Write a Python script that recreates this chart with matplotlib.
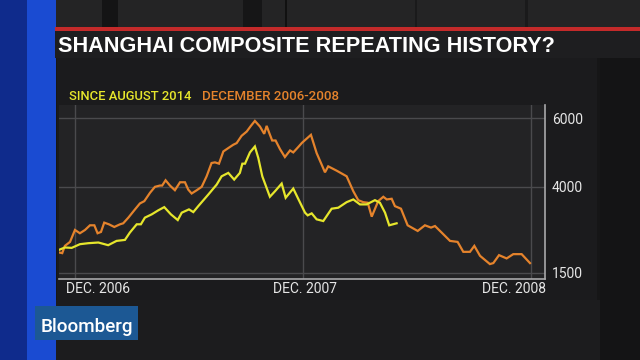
import matplotlib
matplotlib.use("Agg")
import matplotlib.pyplot as plt
from matplotlib.patches import Rectangle
from matplotlib.transforms import ScaledTranslation

# ---- data (x = months relative to Dec. 2006) ----
orange_x = [-0.84, -0.67, -0.53, -0.26, 0.0, 0.26, 0.53, 0.79, 1.02, 1.19, 1.37, 1.54, 1.79,
            2.07, 2.37, 2.54, 2.81, 3.16, 3.42, 3.65, 3.95, 4.21, 4.47, 4.59, 4.77, 5.0,
            5.26, 5.53, 5.79, 5.96, 6.14, 6.41, 6.67, 6.93, 7.19, 7.37, 7.58, 7.81, 8.07,
            8.33, 8.51, 8.77, 9.04, 9.26, 9.47, 9.74, 9.96, 10.09, 10.23, 10.38, 10.56,
            10.79, 11.05, 11.32, 11.49, 11.75, 11.95, 12.42, 12.72, 13.16, 13.33, 13.77,
            14.3, 14.65, 14.91, 15.17, 15.41, 15.62, 15.96, 16.23, 16.41, 16.67, 16.84,
            17.16, 17.51, 18.04, 18.42, 18.74, 18.95, 19.3, 19.74, 20.14, 20.44, 20.79,
            21.02, 21.32, 21.84, 22.02, 22.32, 22.72, 23.07, 23.51, 23.95]
orange_y = [2086, 2066, 2278, 2394, 2742, 2646, 2742, 2878, 2878, 2646, 2684, 2956, 2907,
            2829, 2907, 2936, 3101, 3342, 3516, 3582, 3826, 4000, 4037, 4037, 4191, 4037,
            3901, 4133, 4133, 3921, 3805, 3901, 4000, 4307, 4695, 4713, 4675, 5032, 5130,
            5226, 5275, 5487, 5612, 5777, 5922, 5756, 5545, 5777, 5565, 5351, 5351,
            5101, 4869, 5061, 5003, 5159, 5284, 5516, 4985, 4423, 4597, 4472,
            4307, 3872, 3611, 3553, 3536, 3130, 3582, 3710, 3632, 3652, 3437,
            3362, 2878, 2713, 2878, 2811, 2857, 2666, 2423, 2394, 2104, 2104,
            2278, 1988, 1747, 1776, 2008, 1912, 2037, 2037, 1776]

yellow_x = [-0.84, -0.53, -0.17, 0.26, 0.7, 1.23, 1.75, 2.19, 2.63, 2.89, 3.25, 3.47, 3.68,
            4.04, 4.38, 4.7, 5.05, 5.41, 5.62, 6.0, 6.23, 6.49, 7.02, 7.46, 7.72, 8.07,
            8.38, 8.68, 8.81, 8.95, 9.21, 9.47, 9.65, 9.86, 10.26, 10.53, 10.88, 11.09,
            11.49, 11.75, 12.11, 12.25, 12.46, 12.72, 13.07, 13.51, 13.86, 14.3, 14.65,
            15.0, 15.35, 15.79, 16.05, 16.32, 16.54, 16.93]
yellow_y = [2162, 2231, 2220, 2327, 2356, 2376, 2298, 2423, 2452, 2666, 2907, 2907, 3101,
            3197, 3313, 3408, 3197, 3031, 3246, 3342, 3263, 3437, 3776, 4066, 4307, 4406,
            4211, 4406, 4675, 4675, 5003, 5177, 4840, 4307, 3710, 3872, 4095, 3681,
            3950, 3652, 3246, 3168, 3226, 3052, 3002, 3362, 3391, 3553, 3632,
            3487, 3487, 3611, 3536, 3246, 2878, 2936]

x_ticks = [0, 12, 24]
x_labels = ["DEC. 2006", "DEC. 2007", "DEC. 2008"]
y_ticks = [1500, 4000, 6000]
y_labels = ["1500", "4000", "6000"]

title = "SHANGHAI COMPOSITE REPEATING HISTORY?"
legend_yellow = "SINCE AUGUST 2014"
legend_orange = "DECEMBER 2006-2008"

YELLOW = "#e6e62c"
ORANGE = "#e5832c"

W, H = 640, 360
fig = plt.figure(figsize=(6.4, 3.6), dpi=100)
fig.patch.set_facecolor("#161617")


def rect(x0, y0, x1, y1, color, z=0):
    fig.patches.append(Rectangle((x0 / W, 1 - y1 / H), (x1 - x0) / W, (y1 - y0) / H,
                                 transform=fig.transFigure, facecolor=color,
                                 edgecolor="none", zorder=z))


def ftext(x, y, s, **kw):
    fig.text(x / W, 1 - y / H, s, **kw)


# studio background top
rect(55, 0, 640, 28, "#242425")
for (a, b, c) in [(102, 118, "#141415"), (243, 262, "#161617"), (285, 287, "#111"),
                  (415, 417, "#1a1a1b"), (525, 528, "#1a1a1b")]:
    rect(a, 0, b, 28, c, 0.5)
# lower background
rect(55, 300, 600, 360, "#1c1c1e")
rect(600, 58, 640, 360, "#141415")
# blue strip
rect(0, 0, 27, 360, "#0f2b8c", 1)
rect(27, 0, 56, 360, "#1a4bd2", 1)
# red line + title bar
rect(55, 27, 640, 31, "#c42a2a", 2)
rect(55, 31, 640, 58, "#1e1e20", 1)
# chart panel
rect(57, 58, 597, 300, "#1b1b1d", 1)

ftext(58, 52.5, title, color="white", fontsize=15.6, fontweight="bold",
      family=["Liberation Sans", "DejaVu Sans"], va="baseline", ha="left", zorder=5)
ftext(69, 99.5, legend_yellow, color=YELLOW, fontsize=9.4, fontweight="medium",
      family=["Roboto", "DejaVu Sans"], va="baseline", ha="left", zorder=5)
ftext(202, 99.5, legend_orange, color=ORANGE, fontsize=9.6, fontweight="medium",
      family=["Roboto", "DejaVu Sans"], va="baseline", ha="left", zorder=5)

# Bloomberg logo
rect(35, 306, 138, 340, "#1c5894", 6)
ftext(86.5, 331.5, "Bloomberg", color="white", fontsize=13.6, fontweight="medium",
      family=["Roboto", "DejaVu Sans"], va="baseline", ha="center", zorder=7)

# axes
ax = fig.add_axes([59 / W, 1 - 279 / H, (545 - 59) / W, (279 - 105) / H], zorder=3)
ax.set_facecolor("#232325")
ax.plot(orange_x, orange_y, color=ORANGE, lw=1.6, zorder=3, solid_joinstyle="miter")
ax.plot(yellow_x, yellow_y, color=YELLOW, lw=1.6, zorder=4, solid_joinstyle="miter")

ax.set_xlim(-0.84, 24.74)
ax.set_ylim(1312, 6386)
ax.set_xticks(x_ticks)
ax.set_xticklabels(x_labels)
ax.set_yticks(y_ticks)
ax.set_yticklabels(y_labels)
ax.yaxis.tick_right()
ax.grid(True, color="#4a4a4d", lw=1)
ax.set_axisbelow(True)
for s in ["left", "top"]:
    ax.spines[s].set_visible(False)
for s in ["right", "bottom"]:
    ax.spines[s].set_color("#a8a8aa")
    ax.spines[s].set_linewidth(1.2)
ax.tick_params(length=0, colors="#e6e6e6", labelsize=10)
ax.tick_params(axis="x", pad=2.5)
ax.tick_params(axis="y", pad=5)
for lab in ax.get_xticklabels() + ax.get_yticklabels():
    lab.set_family(["Roboto", "DejaVu Sans"])

xl = ax.get_xticklabels()
offs = [(-9, "left"), (2.5, "center"), (15, "right")]
for lab, (dx, ha) in zip(xl, offs):
    lab.set_ha(ha)
    lab.set_transform(lab.get_transform() + ScaledTranslation(dx / 100, 0, fig.dpi_scale_trans))

fig.savefig("out.png", dpi=100, facecolor=fig.get_facecolor())
